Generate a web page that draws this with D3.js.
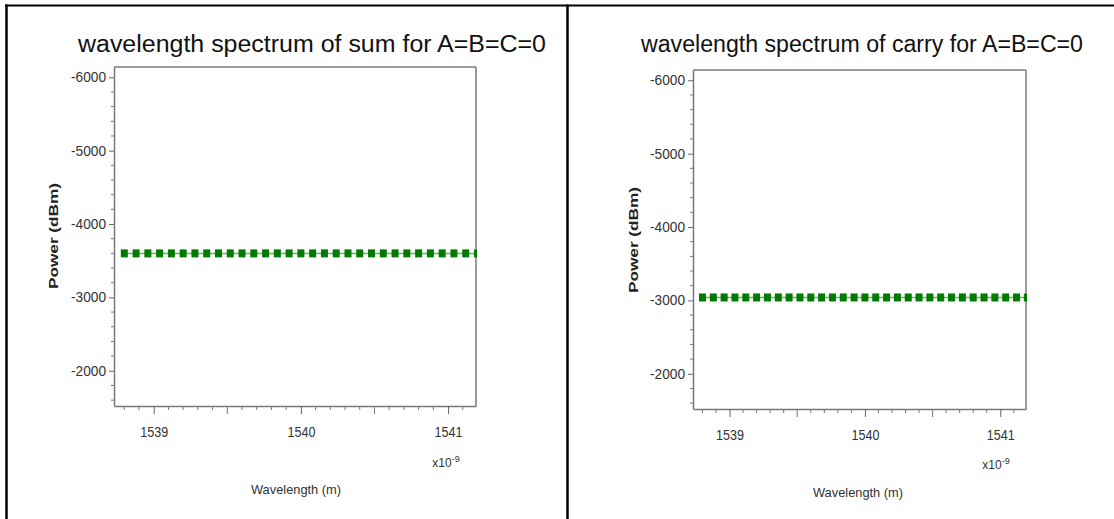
<!DOCTYPE html>
<html>
<head>
<meta charset="utf-8">
<script src="https://cdn.jsdelivr.net/npm/d3@7"></script>
<style>
  html, body { margin: 0; padding: 0; background: #fff; }
  svg { display: block; }
  text { font-family: "Liberation Sans", Arial, sans-serif; }
</style>
</head>
<body>
<svg id="chart" width="1114" height="519"></svg>
<script>
// ---- data ----
const wavelengths = [1538.80, 1538.88, 1538.96, 1539.04, 1539.12, 1539.20, 1539.28, 1539.36,
  1539.44, 1539.52, 1539.60, 1539.68, 1539.76, 1539.84, 1539.92, 1540.00, 1540.08, 1540.16,
  1540.24, 1540.32, 1540.40, 1540.48, 1540.56, 1540.64, 1540.72, 1540.80, 1540.88, 1540.96,
  1541.04, 1541.12, 1541.20];
const sumPower = [-3600, -3600, -3600, -3600, -3600, -3600, -3600, -3600, -3600, -3600, -3600,
  -3600, -3600, -3600, -3600, -3600, -3600, -3600, -3600, -3600, -3600, -3600, -3600, -3600,
  -3600, -3600, -3600, -3600, -3600, -3600, -3600];
const carryPower = [-3040, -3040, -3040, -3040, -3040, -3040, -3040, -3040, -3040, -3040, -3040,
  -3040, -3040, -3040, -3040, -3040, -3040, -3040, -3040, -3040, -3040, -3040, -3040, -3040,
  -3040, -3040, -3040, -3040, -3040, -3040, -3040];
const yTickValues = [-6000, -5000, -4000, -3000, -2000];
const yTickLabels = ["-6000", "-5000", "-4000", "-3000", "-2000"];
const xTickValues = [1539, 1540, 1541];
const xTickLabels = ["1539", "1540", "1541"];
const xDomain = [1538.73, 1541.19];
const yDomain = [-6140, -1520];   // -6140 at the top, -1520 at the bottom
const titles = ["wavelength spectrum of sum for A=B=C=0", "wavelength spectrum of carry for A=B=C=0"];
const xLabel = "Wavelength (m)";
const yLabel = "Power (dBm)";

// ---- layout ----
const panels = [
  { series: sumPower, title: titles[0], x0: 114, x1: 476, y0: 67, y1: 406,
    titleX: 312, titleW: 468, yLabX: 54, yLabY: 236, xLabX: 296, xLabY: 494, expX: 446, expY: 467,
    tickLabY: 432 },
  { series: carryPower, title: titles[1], x0: 693, x1: 1026, y0: 70, y1: 409,
    titleX: 862, titleW: 442, yLabX: 634, yLabY: 240, xLabX: 858, xLabY: 497, expX: 996, expY: 469,
    tickLabY: 435 }
];

const svg = d3.select("#chart");

// outer black frame lines
svg.append("line").attr("x1", 5).attr("x2", 1114).attr("y1", 5.5).attr("y2", 5.5)
  .attr("stroke", "#000").attr("stroke-width", 2);
svg.append("line").attr("x1", 6.5).attr("x2", 6.5).attr("y1", 4.5).attr("y2", 519)
  .attr("stroke", "#000").attr("stroke-width", 2.5);
svg.append("line").attr("x1", 567.5).attr("x2", 567.5).attr("y1", 4.5).attr("y2", 519)
  .attr("stroke", "#000").attr("stroke-width", 2.5);

panels.forEach(p => {
  const x = d3.scaleLinear().domain(xDomain).range([p.x0, p.x1]);
  const y = d3.scaleLinear().domain(yDomain).range([p.y0, p.y1]);
  const g = svg.append("g");

  // title
  g.append("text").attr("x", p.titleX).attr("y", 52).attr("text-anchor", "middle")
    .attr("font-size", 23).attr("fill", "#111")
    .attr("textLength", p.titleW).attr("lengthAdjust", "spacingAndGlyphs")
    .text(p.title);

  // plot frame (top/right lighter)
  g.append("line").attr("x1", p.x0).attr("x2", p.x1).attr("y1", p.y0).attr("y2", p.y0)
    .attr("stroke", "#9a9a9a").attr("stroke-width", 2);
  g.append("line").attr("x1", p.x1).attr("x2", p.x1).attr("y1", p.y0).attr("y2", p.y1)
    .attr("stroke", "#9a9a9a").attr("stroke-width", 2);

  // y axis
  const yAxis = d3.axisLeft(y).tickValues(yTickValues).tickSize(5).tickSizeOuter(0)
    .tickFormat((d, i) => yTickLabels[i]);
  const ya = g.append("g").attr("transform", `translate(${p.x0},0)`).call(yAxis);
  ya.select(".domain").attr("stroke", "#777").attr("stroke-width", 1.5);
  ya.selectAll(".tick line").attr("stroke", "#666");
  ya.selectAll(".tick text").attr("font-size", 14).attr("fill", "#333")
    .attr("font-family", "'Liberation Sans', Arial, sans-serif")
    .attr("textLength", 35).attr("lengthAdjust", "spacingAndGlyphs").attr("x", -8);
  const yMinor = d3.range(-6000, -1500, 200).filter(v => !yTickValues.includes(v));
  g.selectAll(null).data(yMinor).join("line")
    .attr("x1", p.x0 - 3).attr("x2", p.x0).attr("y1", d => y(d)).attr("y2", d => y(d))
    .attr("stroke", "#777");

  // x axis
  const xAxis = d3.axisBottom(x).tickValues(xTickValues).tickSize(8).tickSizeOuter(0)
    .tickFormat((d, i) => xTickLabels[i]);
  const xa = g.append("g").attr("transform", `translate(0,${p.y1})`).call(xAxis);
  xa.select(".domain").attr("stroke", "#777").attr("stroke-width", 1.5);
  xa.selectAll(".tick line").attr("stroke", "#666");
  xa.selectAll(".tick text").attr("font-size", 14).attr("fill", "#333")
    .attr("font-family", "'Liberation Sans', Arial, sans-serif")
    .attr("textLength", 28).attr("lengthAdjust", "spacingAndGlyphs")
    .attr("y", p.tickLabY - p.y1).attr("dy", "0.35em");
  const xMinor = d3.range(15388, 15412, 1).map(v => v / 10).filter(v => !xTickValues.includes(v));
  g.selectAll(null).data(xMinor).join("line")
    .attr("x1", d => x(d)).attr("x2", d => x(d)).attr("y1", p.y1)
    .attr("y2", d => p.y1 + (Math.abs(d * 2 - Math.round(d * 2)) < 1e-6 ? 8 : 4))
    .attr("stroke", "#777");

  // data
  const clip = "clip" + p.x0;
  svg.append("clipPath").attr("id", clip).append("rect")
    .attr("x", p.x0).attr("y", p.y0).attr("width", p.x1 - p.x0 + 1).attr("height", p.y1 - p.y0);
  const dg = g.append("g").attr("clip-path", `url(#${clip})`);
  const pts = wavelengths.map((w, i) => [w, p.series[i]]);
  dg.append("path").datum(pts)
    .attr("d", d3.line().x(d => x(d[0])).y(d => y(d[1])))
    .attr("fill", "none").attr("stroke", "#5cb85c").attr("stroke-width", 1.5);
  dg.selectAll(null).data(pts).join("rect")
    .attr("x", d => x(d[0]) - 3.5).attr("y", d => y(d[1]) - 4)
    .attr("width", 7).attr("height", 8).attr("fill", "#007a00");

  // axis labels
  g.append("text").attr("transform", `translate(${p.yLabX},${p.yLabY}) rotate(-90)`)
    .attr("text-anchor", "middle").attr("dy", "0.35em")
    .attr("font-size", 12).attr("font-weight", "bold").attr("fill", "#222")
    .attr("textLength", 106).attr("lengthAdjust", "spacingAndGlyphs")
    .text(yLabel);
  g.append("text").attr("x", p.xLabX).attr("y", p.xLabY).attr("text-anchor", "middle")
    .attr("font-size", 13).attr("fill", "#333")
    .attr("textLength", 90).attr("lengthAdjust", "spacingAndGlyphs")
    .text(xLabel);
  const ex = g.append("text").attr("x", p.expX).attr("y", p.expY).attr("text-anchor", "middle")
    .attr("font-size", 12).attr("fill", "#333");
  ex.append("tspan").text("x10");
  ex.append("tspan").attr("dy", -5).attr("font-size", 9).text("-9");
});
</script>
</body>
</html>
